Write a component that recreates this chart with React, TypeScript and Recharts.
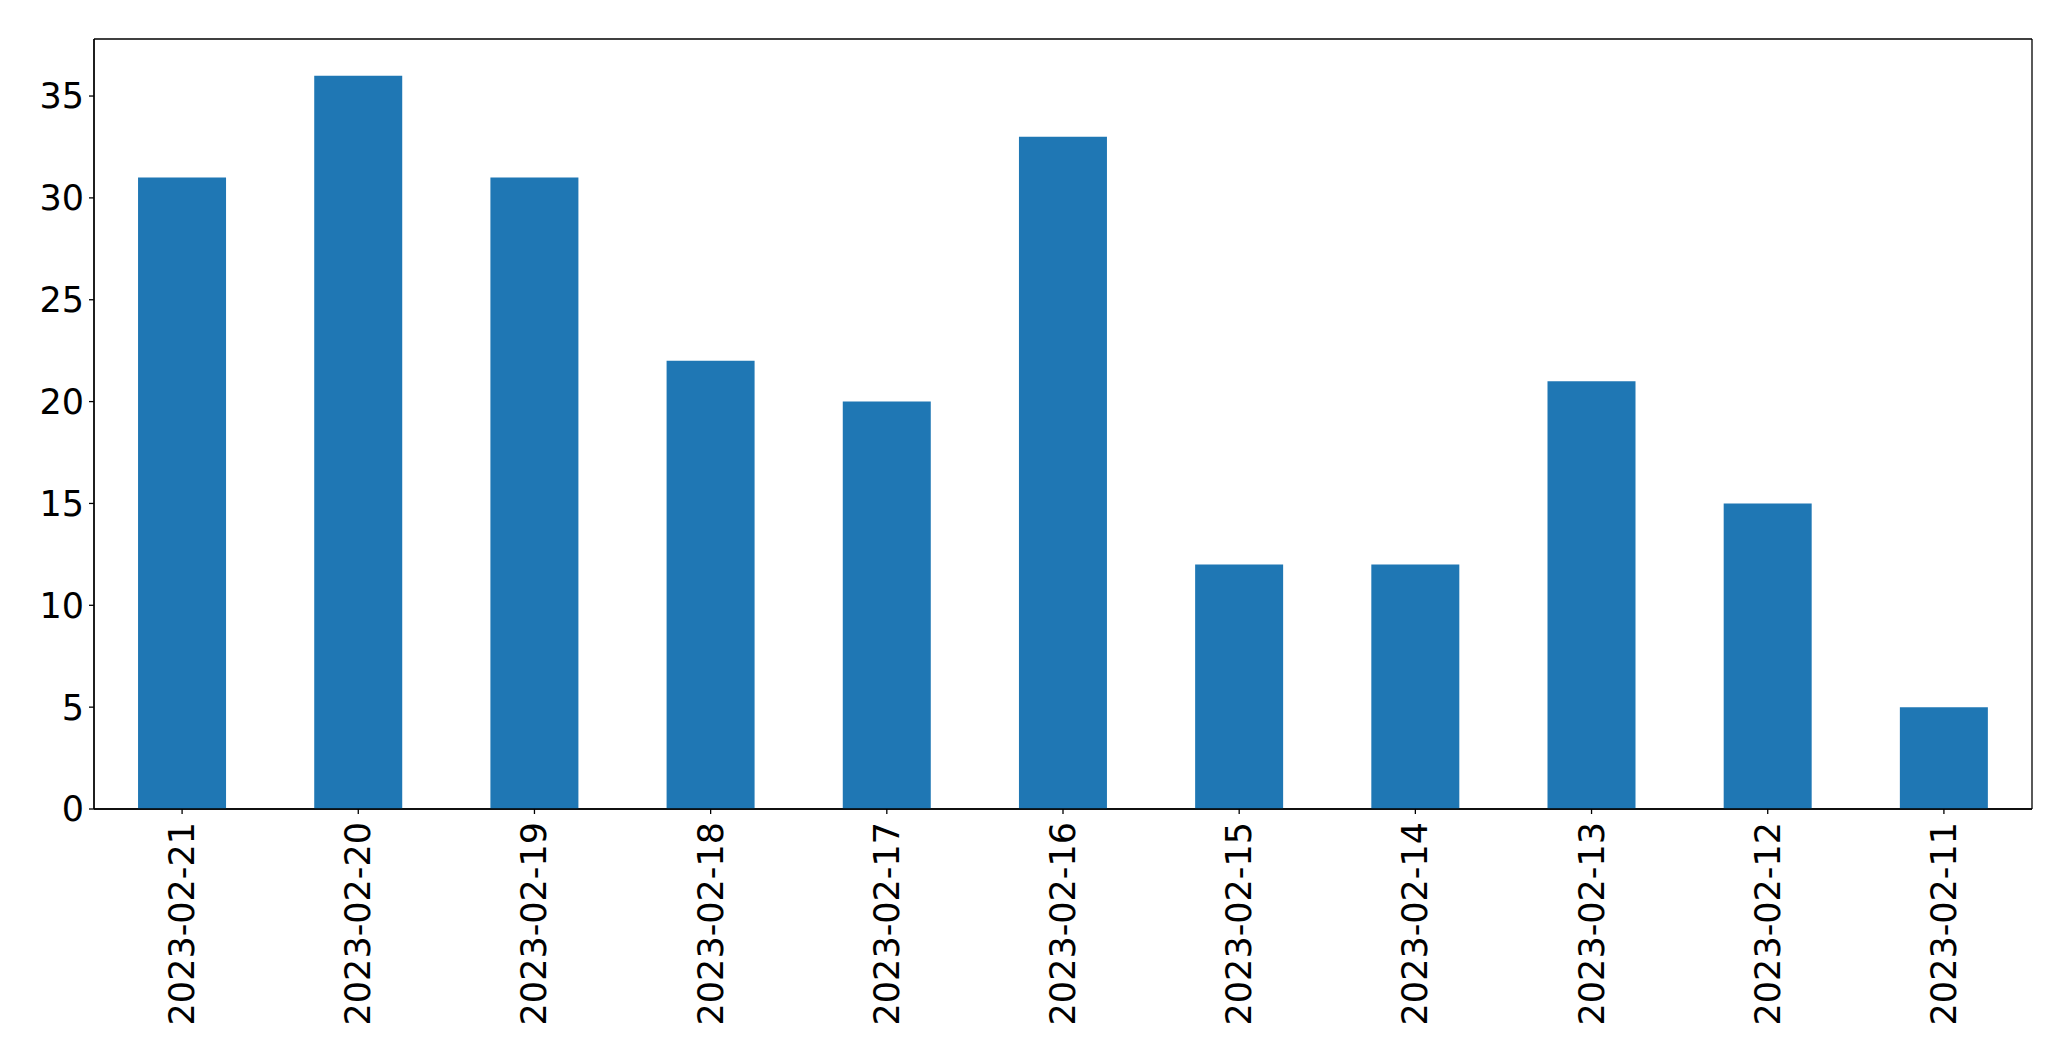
import React from "react";
import { BarChart, Bar, XAxis, YAxis, CartesianGrid } from "recharts";

const categories = [
  "2023-02-21", "2023-02-20", "2023-02-19", "2023-02-18", "2023-02-17", "2023-02-16",
  "2023-02-15", "2023-02-14", "2023-02-13", "2023-02-12", "2023-02-11",
];
const counts = [31, 36, 31, 22, 20, 33, 12, 12, 21, 15, 5];
const yTicks = [0, 5, 10, 15, 20, 25, 30, 35];

const data = categories.map((c, i) => ({ date: c, count: counts[i] }));

const FONT = "'DejaVu Sans', sans-serif";

const XTick = (props: any) => {
  const { x, y, payload } = props;
  return (
    <text
      x={x}
      y={y}
      transform={`rotate(-90, ${x}, ${y})`}
      textAnchor="end"
      dominantBaseline="central"
      fontSize={35}
      fontFamily={FONT}
      fill="#000"
    >
      {payload.value}
    </text>
  );
};

export default function App() {
  return (
    <div style={{ position: "absolute", left: 0, top: 0, background: "#fff" }}>
      <BarChart
        width={2071}
        height={1061}
        data={data}
        margin={{ top: 39, right: 39, bottom: 0, left: 0 }}
        barCategoryGap="25%"
      >
        <CartesianGrid
          stroke="#000"
          strokeWidth={1.3}
          horizontalCoordinatesGenerator={({ offset }: any) => [offset.top, offset.top + offset.height]}
          verticalCoordinatesGenerator={({ offset }: any) => [offset.left, offset.left + offset.width]}
        />
        <XAxis
          dataKey="date"
          height={252}
          tick={<XTick />}
          tickSize={5}
          tickMargin={8}
          interval={0}
          axisLine={{ stroke: "#000", strokeWidth: 1.3 }}
          tickLine={{ stroke: "#000", strokeWidth: 1.3 }}
        />
        <YAxis
          width={94}
          domain={[0, 37.8]}
          ticks={yTicks}
          tickSize={5}
          tickMargin={5}
          allowDataOverflow
          tick={{ fontSize: 35, fontFamily: FONT, fill: "#000" }}
          axisLine={{ stroke: "#000", strokeWidth: 1.3 }}
          tickLine={{ stroke: "#000", strokeWidth: 1.3 }}
        />
        <Bar dataKey="count" fill="#1f77b4" isAnimationActive={false} />
      </BarChart>
    </div>
  );
}
